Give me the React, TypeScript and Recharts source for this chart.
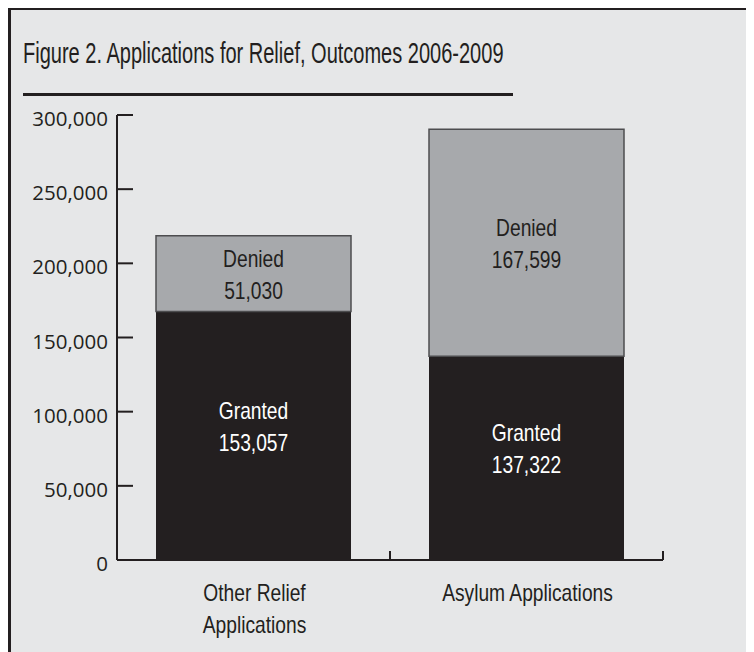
import React from 'react';
import { BarChart, Bar, XAxis, YAxis, LabelList } from 'recharts';

// categories and values (bar heights as drawn in the figure)
const categories = ['Other Relief Applications', 'Asylum Applications'];
const categoryLines = [['Other Relief', 'Applications'], ['Asylum Applications']];
const granted = [167599, 137322];
const denied = [51030, 153057];
// numbers printed inside the bars
const grantedLabels = ['153,057', '137,322'];
const deniedLabels = ['51,030', '167,599'];
const yTicks = [0, 50000, 100000, 150000, 200000, 250000, 300000];

const data = categories.map((name, i) => ({
  name,
  granted: granted[i],
  denied: denied[i],
}));

const INK = '#231f20';
const BG = '#e6e7e8';
const GREY = '#a7a9ac';
const NARROW = '"Liberation Sans", Arial, sans-serif';
const SQUEEZE = 0.8;
const SANS = '"Open Sans", "Noto Sans", sans-serif';

const W = 743;
const H = 642;
const MARGIN = { top: 105, right: 91, bottom: 32, left: 0 };
const Y_WIDTH = 106;
const BAND = (W - Y_WIDTH - MARGIN.right) / categories.length;

// condensed text: regular sans squeezed horizontally
const Narrow = ({ x, y, size, fill, children }: any) => (
  <text
    transform={`translate(${x},${y}) scale(${SQUEEZE},1)`}
    textAnchor="middle"
    fontFamily={NARROW}
    fontSize={size}
    fill={fill}
  >
    {children}
  </text>
);

const YTick = (props: any) => {
  const { x, y, payload } = props;
  return (
    <g>
      <line x1={x} x2={x + 16} y1={y} y2={y} stroke={INK} strokeWidth={2} />
      <text
        x={x - 9}
        y={y + 11}
        textAnchor="end"
        fontFamily={SANS}
        fontSize={20.5}
        fill={INK}
      >
        {payload.value === 0 ? '0' : payload.value.toLocaleString('en-US')}
      </text>
    </g>
  );
};

const XTick = (props: any) => {
  const { x, y, index } = props;
  const lines = categoryLines[index] || [];
  return (
    <g>
      <line x1={x + BAND / 2} x2={x + BAND / 2} y1={y} y2={y - 9} stroke={INK} strokeWidth={2} />
      {lines.map((l, k) => (
        <Narrow key={k} x={x + 1} y={y + 41 + k * 32} size={24} fill={INK}>
          {l}
        </Narrow>
      ))}
    </g>
  );
};

const makeLabel = (word: string, texts: string[], color: string, o1: number, o2: number) =>
  (props: any) => {
    const { x, y, width, height, index } = props;
    const cx = x + width / 2;
    const cy = y + height / 2;
    return (
      <g>
        <Narrow x={cx} y={cy + o1 + 8} size={24} fill={color}>
          {word}
        </Narrow>
        <Narrow x={cx} y={cy + o2 + 8} size={24} fill={color}>
          {texts[index]}
        </Narrow>
      </g>
    );
  };

export default function App() {
  return (
    <div
      style={{
        position: 'relative',
        width: 760,
        height: 660,
        background: BG,
        borderTop: `2px solid ${INK}`,
        borderLeft: `3px solid ${INK}`,
        overflow: 'hidden',
      }}
    >
      <style>{'html,body{overflow:hidden}'}</style>
      <div
        style={{
          position: 'absolute',
          left: 12,
          top: 27,
          fontFamily: NARROW,
          fontSize: 29,
          lineHeight: '33px',
          color: INK,
          whiteSpace: 'nowrap',
          transform: 'scaleX(0.69)',
          transformOrigin: 'left top',
        }}
      >
        Figure 2. Applications for Relief, Outcomes 2006-2009
      </div>
      <div
        style={{
          position: 'absolute',
          left: 12,
          top: 83,
          width: 490,
          height: 2.5,
          background: INK,
        }}
      />
      <div style={{ position: 'absolute', left: 0, top: 0 }}>
        <BarChart width={W} height={H} data={data} margin={MARGIN} barSize={195}>
          <XAxis
            dataKey="name"
            axisLine={{ stroke: INK, strokeWidth: 2 }}
            tickLine={false}
            tickSize={0}
            tickMargin={0}
            height={60}
            interval={0}
            tick={<XTick />}
          />
          <YAxis
            width={Y_WIDTH}
            domain={[0, 300000]}
            ticks={yTicks}
            axisLine={{ stroke: INK, strokeWidth: 2 }}
            tickLine={false}
            tickSize={0}
            tickMargin={0}
            tick={<YTick />}
          />
          <Bar dataKey="granted" stackId="a" fill={INK} isAnimationActive={false}>
            <LabelList content={makeLabel('Granted', grantedLabels, '#ffffff', -25, 7)} />
          </Bar>
          <Bar
            dataKey="denied"
            stackId="a"
            fill={GREY}
            stroke="#4d4d4f"
            strokeWidth={1.5}
            isAnimationActive={false}
          >
            <LabelList content={makeLabel('Denied', deniedLabels, INK, -15, 17)} />
          </Bar>
        </BarChart>
      </div>
    </div>
  );
}
